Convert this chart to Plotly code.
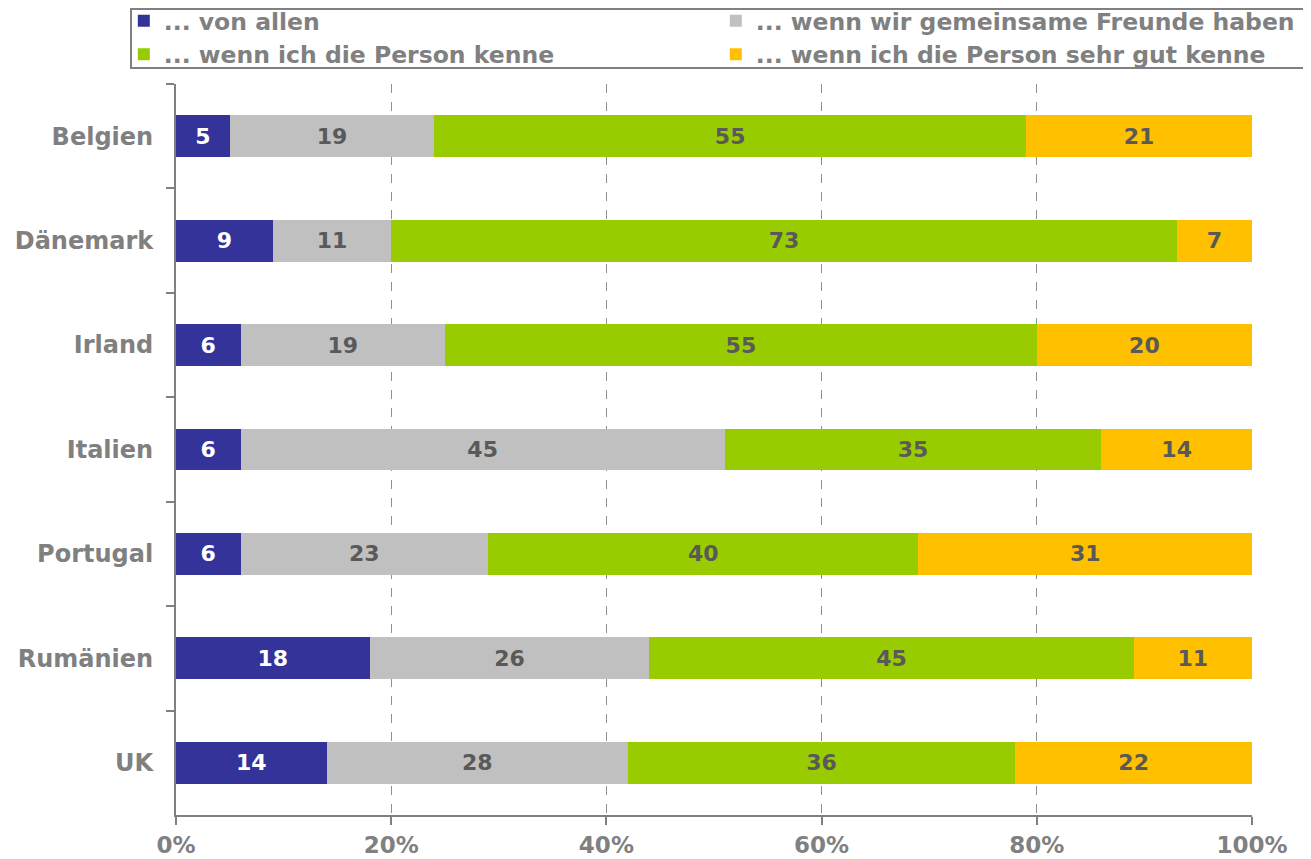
import plotly.graph_objects as go

countries = ["Belgien", "Dänemark", "Irland", "Italien", "Portugal", "Rumänien", "UK"]
series_names = ["... von allen", "... wenn wir gemeinsame Freunde haben",
                "... wenn ich die Person kenne", "... wenn ich die Person sehr gut kenne"]
von_allen = [5, 9, 6, 6, 6, 18, 14]
gemeinsame_freunde = [19, 11, 19, 45, 23, 26, 28]
kenne = [55, 73, 55, 35, 40, 45, 36]
sehr_gut_kenne = [21, 7, 20, 14, 31, 11, 22]
colors = ["#333399", "#C0C0C0", "#99CC00", "#FFC000"]
text_colors = ["#FFFFFF", "#595959", "#595959", "#595959"]
x_ticks = [0, 20, 40, 60, 80, 100]
x_tick_labels = ["0%", "20%", "40%", "60%", "80%", "100%"]

FONT = "DejaVu Sans, Verdana, sans-serif"
GRAY = "#808080"

fig = go.Figure()
for name, vals, col, tcol in zip(series_names,
                                 [von_allen, gemeinsame_freunde, kenne, sehr_gut_kenne],
                                 colors, text_colors):
    fig.add_trace(go.Bar(
        y=countries, x=vals, name=name, orientation="h",
        marker=dict(color=col, line=dict(width=0)),
        text=[str(v) for v in vals], textposition="inside",
        insidetextanchor="middle", textangle=0,
        textfont=dict(family=FONT, size=22, color=tcol, weight="bold"),
        hoverinfo="skip",
    ))

# legend frame drawn as a shape so the legend rows can sit close to its top edge
fig.add_shape(type="rect", xref="paper", yref="paper",
              x0=-0.0418, x1=1.07, y0=1.0219, y1=1.1025,
              line=dict(color=GRAY, width=2), fillcolor="rgba(0,0,0,0)", layer="above")

fig.update_layout(
    barmode="stack", bargap=0.6,
    width=1303, height=851,
    margin=dict(l=168, r=59, t=76, b=44, autoexpand=False),
    plot_bgcolor="white", paper_bgcolor="white",
    font=dict(family=FONT, color=GRAY, size=22, weight="bold"),
    legend=dict(
        orientation="h", x=-0.0485, y=1.1163, xanchor="left", yanchor="top",
        entrywidth=547, entrywidthmode="pixels",
        borderwidth=0, bgcolor="rgba(0,0,0,0)",
        font=dict(family=FONT, size=23.5, color=GRAY, weight="bold"),
        itemwidth=30, traceorder="normal", tracegroupgap=0,
    ),
    xaxis=dict(
        range=[0, 100], tickvals=x_ticks, ticktext=x_tick_labels,
        showgrid=True, gridcolor="#909090", griddash="dash", gridwidth=1,
        showline=True, linecolor=GRAY, linewidth=2,
        ticks="outside", ticklen=8, tickcolor=GRAY, tickwidth=2,
        tickfont=dict(family=FONT, size=23, color=GRAY, weight="bold"),
        zeroline=False, fixedrange=True,
    ),
    yaxis=dict(
        autorange="reversed", type="category",
        showline=True, linecolor=GRAY, linewidth=2,
        ticks="outside", ticklen=8, tickcolor=GRAY, tickwidth=2,
        tickson="boundaries",
        tickfont=dict(family=FONT, size=24, color=GRAY, weight="bold"),
        ticklabelstandoff=16,
        showgrid=False, zeroline=False, fixedrange=True,
    ),
)

fig.write_html("out.html")
